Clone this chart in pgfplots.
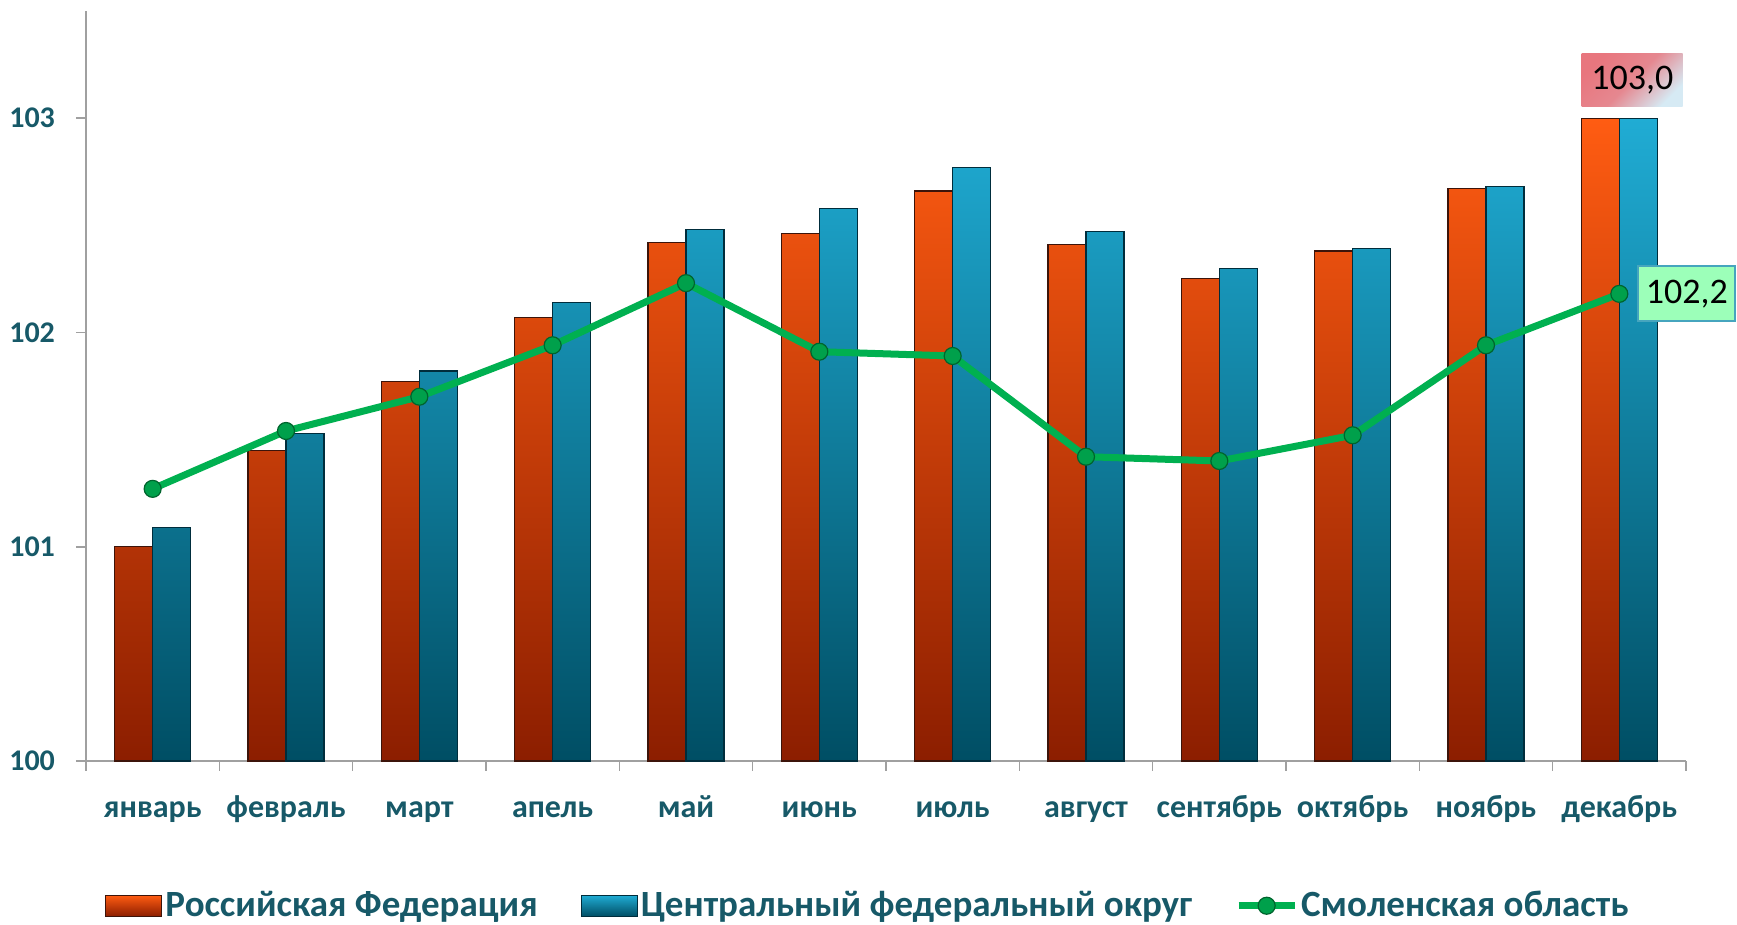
\documentclass[border=0pt]{standalone}
\usepackage{fontspec}
\setmainfont{Carlito}
\usepackage{pgfplots}
\usepackage{pgfplotstable}
\pgfplotsset{compat=1.18}
\definecolor{tickc}{RGB}{23,89,104}
\definecolor{axc}{RGB}{160,160,160}
\definecolor{orTop}{RGB}{255,92,18}
\definecolor{orBot}{RGB}{140,30,0}
\definecolor{orEdge}{RGB}{60,20,10}
\definecolor{blTop}{RGB}{32,172,212}
\definecolor{blBot}{RGB}{0,78,100}
\definecolor{blEdge}{RGB}{0,45,60}
\definecolor{grLine}{RGB}{0,176,80}
\definecolor{grMark}{RGB}{0,160,75}
\definecolor{grMarkEdge}{RGB}{0,100,45}
\definecolor{lblGreen}{RGB}{156,255,185}
\definecolor{lblEdge}{RGB}{70,165,190}
\definecolor{lblPink}{RGB}{232,118,126}
\definecolor{lblBlue}{RGB}{214,234,244}

\pgfplotsset{
  barleg/.style={legend image code/.code={\draw[##1] (0pt,-5.25pt) rectangle (28pt,5.25pt);}},
  lineleg/.style={legend image code/.code={\draw[mark repeat=2, mark phase=2, ##1] plot coordinates {(0pt,0pt) (14pt,0pt) (28pt,0pt)};}},
}

\pgfplotstableread{
x rf cfd smo
0 101.00 101.09 101.27
1 101.45 101.53 101.54
2 101.77 101.82 101.70
3 102.07 102.14 101.94
4 102.42 102.48 102.23
5 102.46 102.58 101.91
6 102.66 102.77 101.89
7 102.41 102.47 101.42
8 102.25 102.30 101.40
9 102.38 102.39 101.52
10 102.67 102.68 101.94
11 103.00 103.00 102.18
}\datatable

\begin{document}
\begin{tikzpicture}
\path[use as bounding box] (-43pt,-82pt) rectangle (825.5pt,380.5pt);
\begin{axis}[
  scale only axis,
  width=800pt, height=375pt,
  at={(0,0)}, anchor=south west,
  xmin=-0.5, xmax=11.5,
  ymin=100, ymax=103.5,
  axis x line*=bottom, axis y line*=left,
  axis line style={draw=axc, line width=0.8pt},
  xtick={0,...,11},
  xticklabels={январь,февраль,март,апель,май,июнь,июль,август,сентябрь,октябрь,ноябрь,декабрь},
  major x tick style={draw=none},
  minor xtick={-0.5,0.5,...,11.5},
  minor x tick style={draw=axc, line width=0.8pt},
  ytick={100,101,102,103},
  y tick style={draw=axc, line width=0.8pt},
  tick align=outside,
  major tick length=5pt, minor tick length=5pt,
  /pgf/number format/assume math mode=true,
  x tick label style={font=\fontsize{16}{19}\selectfont\bfseries, text=tickc, text height=1.5ex, text depth=0.25ex, yshift=-12.5pt},
  y tick label style={font=\fontsize{15}{18}\selectfont\bfseries, text=tickc, xshift=-7pt},
  ybar=0pt, bar width=19pt,
  legend columns=3,
  legend style={at={(axis description cs:0.489,-0.193)}, anchor=center, draw=none, fill=none,
    font=\fontsize{18.5}{22}\selectfont\bfseries, text=tickc,
    /tikz/every even column/.append style={column sep=20pt},
    nodes={inner sep=1.5pt}},
  clip=false,
]
\addplot[draw=orEdge, line width=0.6pt, top color=orTop, bottom color=orBot, barleg]
  table[x=x, y=rf] {\datatable};
\addlegendentry{Российская Федерация}
\addplot[draw=blEdge, line width=0.6pt, top color=blTop, bottom color=blBot, barleg]
  table[x=x, y=cfd] {\datatable};
\addlegendentry{Центральный федеральный округ}
\addplot[sharp plot, color=grLine, line width=3.5pt, mark=*, mark size=4.25pt,
  mark options={fill=grMark, draw=grMarkEdge, line width=0.6pt}, lineleg]
  table[x=x, y=smo] {\datatable};
\addlegendentry{Смоленская область}
\node[anchor=south west, xshift=-19pt, yshift=5.5pt, minimum width=50.5pt, minimum height=26.5pt,
  inner sep=0pt, top color=lblPink, bottom color=lblBlue, middle color=lblPink!85!lblBlue, shading angle=45,
  font=\fontsize{18}{21}\selectfont] at (axis cs:11,103) {103,0};
\node[anchor=west, xshift=9pt, minimum width=48.5pt, minimum height=27.5pt, inner sep=0pt,
  fill=lblGreen, draw=lblEdge, line width=1pt,
  font=\fontsize{18}{21}\selectfont] at (axis cs:11,102.18) {102,2};
\end{axis}
\end{tikzpicture}
\end{document}
